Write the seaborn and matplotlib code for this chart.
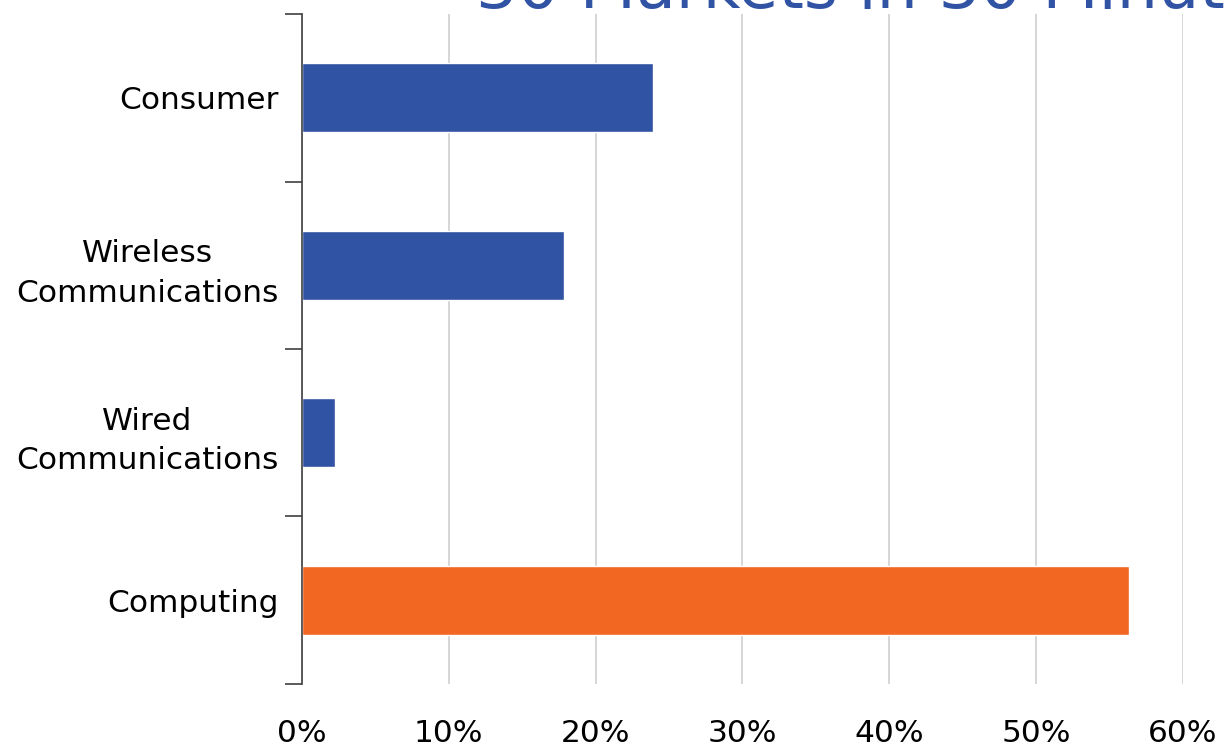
import pandas as pd
import seaborn as sns
import matplotlib.pyplot as plt
from matplotlib.ticker import FixedLocator, FuncFormatter

categories = ['Consumer', 'Wireless\nCommunications', 'Wired\nCommunications', 'Computing']
shares = [23.9, 17.85, 2.25, 56.3]
groups = ['other', 'other', 'other', 'highlight']
x_ticks = [0, 10, 20, 30, 40, 50, 60]
title = '30 Markets in 30 Minutes'

df = pd.DataFrame({'Market': categories, 'Share': shares, 'Group': groups})

sns.set_style('white')
plt.rcParams['font.family'] = ['DejaVu Sans']

fig = plt.figure(figsize=(12.27, 7.49), dpi=100)
ax = fig.add_axes([0.2461, 0.0868, 0.718, 0.8945])

sns.barplot(data=df, x='Share', y='Market', hue='Group', orient='h',
            palette={'other': '#3153A4', 'highlight': '#F26722'},
            width=0.41, dodge=False, legend=False, saturation=1, ax=ax)

ax.set_xlim(0, 60)
ax.set_ylim(3.5, -0.5)
ax.set_xticks(x_ticks)
ax.xaxis.set_major_formatter(FuncFormatter(lambda v, p: f'{v:.0f}%'))
ax.tick_params(axis='x', length=0, pad=25, labelsize=22.5, colors='black')
ax.grid(axis='x', color='#D0D0D0', linewidth=1.2)
ax.set_axisbelow(True)

ax.yaxis.set_minor_locator(FixedLocator([-0.5, 0.5, 1.5, 2.5, 3.5]))
ax.tick_params(axis='y', which='minor', length=12, width=1.2, color='#404040', left=True)
ax.tick_params(axis='y', which='major', length=0, pad=17, labelsize=22.5, labelcolor='black')
for lbl in ax.get_yticklabels():
    lbl.set_multialignment('center')
    lbl.set_linespacing(1.45)

ax.set_xlabel('')
ax.set_ylabel('')
for side in ['top', 'right', 'bottom']:
    ax.spines[side].set_visible(False)
ax.spines['left'].set_color('#404040')
ax.spines['left'].set_linewidth(1.2)

# slide title, mostly cropped off the top of the picture
fig.text(476 / 1227, 1 - 8 / 749, title, color='#3153A4', fontsize=47, va='baseline', ha='left')

fig.savefig('out.png', dpi=100)
